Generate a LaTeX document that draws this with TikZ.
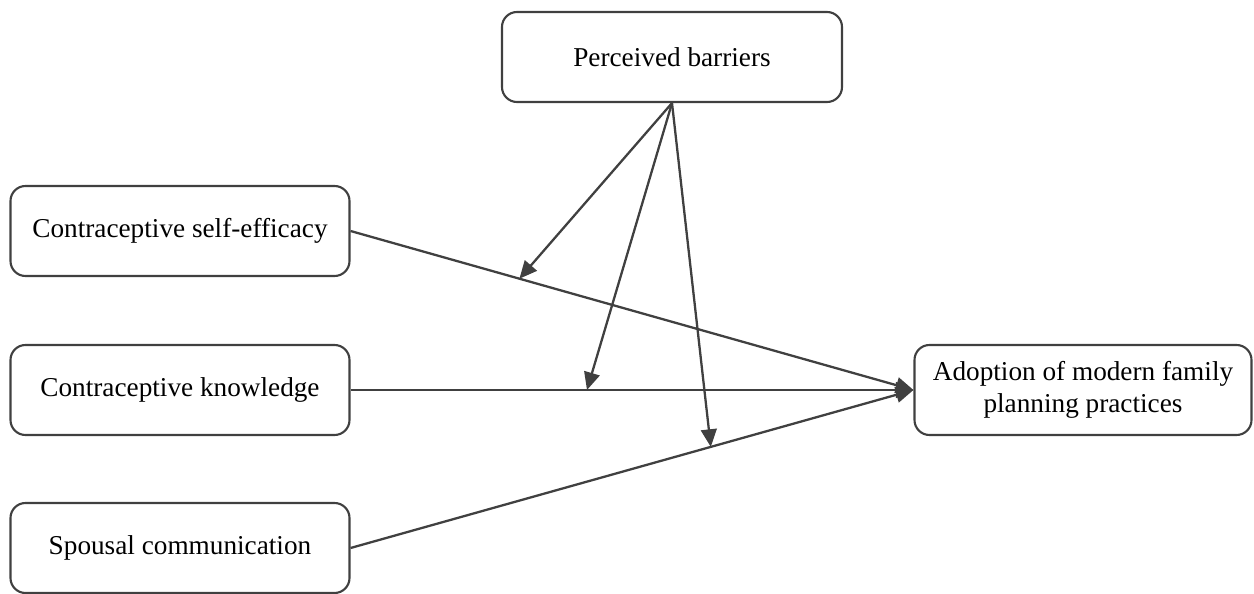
\documentclass[tikz,border=0pt]{standalone}
\usepackage{fontspec}
\setmainfont{Liberation Serif}
\usepackage{tikz}
\usetikzlibrary{arrows.meta,calc}
\tikzset{>={Triangle[length=10pt,width=9pt]}}
\definecolor{linegray}{HTML}{404040}
\tikzset{
  varbox/.style={draw=linegray,line width=1.2pt,rounded corners=0.3cm,
    minimum width=6.78cm,minimum height=1.8cm,align=center,
    font=\fontsize{15.5}{18.5}\selectfont},
  link/.style={draw=linegray,line width=1.3pt,->}
}

\begin{document}
\begin{tikzpicture}
\useasboundingbox (0,0) rectangle (25.08,11.86);
\node[varbox,minimum width=6.8cm] (bar) at (13.44,10.72) {Perceived barriers};
\node[varbox] (eff)  at (3.6,7.24) {Contraceptive self-efficacy};
\node[varbox] (know) at (3.6,4.06) {Contraceptive knowledge};
\node[varbox] (spou) at (3.6,0.9)  {Spousal communication};
\node[varbox,minimum width=6.74cm] (adopt) at (21.66,4.06)
  {Adoption of modern family\\planning practices};
% main paths
\draw[link] (eff.east)  -- coordinate[pos=0.3]  (m1) (adopt.west);
\draw[link] (know.east) -- coordinate[pos=0.42] (m2) (adopt.west);
\draw[link] (spou.east) -- coordinate[pos=0.64] (m3) (adopt.west);
% moderation
\draw[link] (bar.south) -- (m1);
\draw[link] (bar.south) -- (m2);
\draw[link] (bar.south) -- (m3);
\end{tikzpicture}
\end{document}
